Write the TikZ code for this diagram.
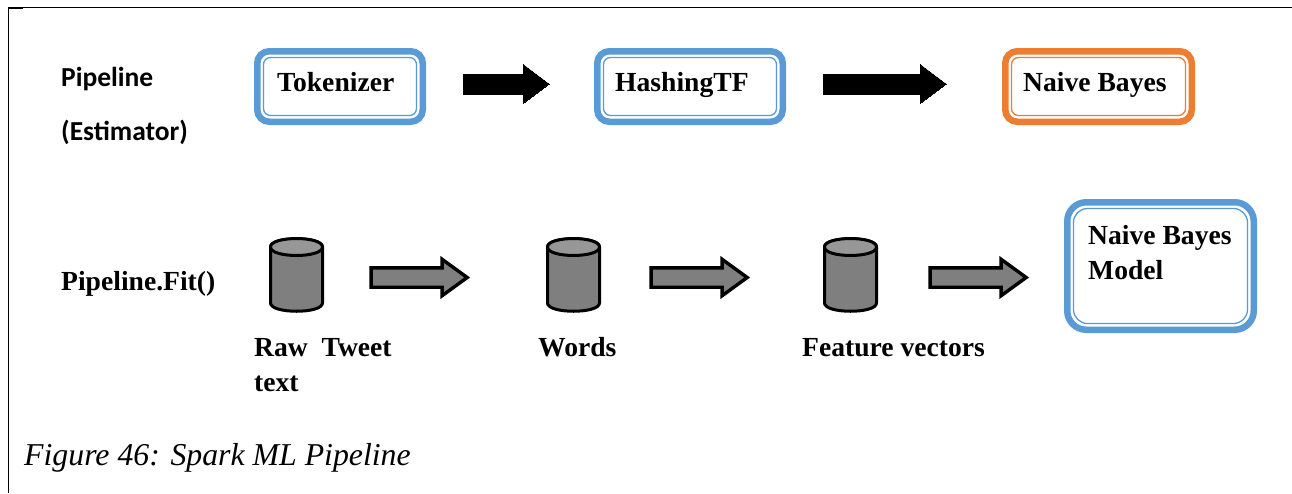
\documentclass[tikz,border=0pt]{standalone}
\usepackage{fontspec}
\setmainfont{Liberation Serif}
\newfontfamily\labelfont{Carlito}
\usetikzlibrary{shapes.geometric,shapes.arrows}
\definecolor{boxblue}{HTML}{5B9BD5}
\definecolor{boxorange}{HTML}{ED7D31}
\definecolor{cylgray}{HTML}{7F7F7F}
\definecolor{cyltop}{HTML}{979797}
\tikzset{
  x=1pt,y=-1pt,
  framebox/.style={rectangle,line width=6.5pt,fill=white,anchor=north west,outer sep=0pt},
  innerbox/.style={line width=1.3pt},
  boxtext/.style={font=\fontsize{27.6}{32}\selectfont\bfseries,anchor=base west,inner sep=0pt,align=left},
  sidetext/.style={font=\labelfont\fontsize{27.5}{32}\selectfont\bfseries,anchor=base west,inner sep=0pt},
  blockarrow/.style={single arrow,fill=black,draw=black,line width=0pt,inner xsep=0pt,inner ysep=10pt,anchor=center,minimum width=39pt,single arrow head extend=9.5pt,single arrow tip angle=74},
  grayarrow/.style={single arrow,fill=cylgray,draw=black,line width=3.4pt,inner xsep=0pt,inner ysep=8pt,anchor=center,minimum height=96pt,minimum width=33pt,single arrow head extend=8.5pt,single arrow tip angle=72},
  drumline/.style={draw=black,line width=3pt,line join=round},
}
\newcommand{\dbox}[7]{% name, x1, y1, x2, y2, colour, centre-line radius
  \node[framebox,rounded corners=#7pt,draw=#6,minimum width=#4pt-#2pt-6.5pt,minimum height=#5pt-#3pt-6.5pt] (#1) at (#2+3.25,#3+3.25) {};
  \draw[innerbox,rounded corners=#7pt-5pt,draw=#6] (#2+9.5,#3+9.5) rectangle (#4-9.5,#5-9.5);
}
\newcommand{\drum}[2]{% name, centre x
  \coordinate (#1) at (#2,275);
  \draw[drumline,fill=cylgray] (#2-26,247) -- (#2-26,303)
     .. controls (#2-26,314) and (#2+26,314) .. (#2+26,303) -- (#2+26,247)
     .. controls (#2+26,236) and (#2-26,236) .. (#2-26,247) -- cycle;
  \draw[drumline,fill=cyltop] (#2-26,247)
     .. controls (#2-26,258.3) and (#2+26,258.3) .. (#2+26,247)
     .. controls (#2+26,235.7) and (#2-26,235.7) .. (#2-26,247) -- cycle;
}
\begin{document}
\begin{tikzpicture}
\useasboundingbox (0,0) rectangle (1292,493);
\fill[white] (0,0) rectangle (1292,493);
% page frame
\coordinate (frameA) at (8.5,493);
\coordinate (frameB) at (8.5,7.5);
\coordinate (frameC) at (1292,7.5);
\draw[line width=1.4pt,black] (frameA) -- (frameB) -- (frameC);
\draw[line width=2pt,black] (8,8) -- (23,8);
% boxes
\dbox{tok}{254}{48}{426}{125}{boxblue}{12}
\dbox{hash}{594}{48}{786}{125}{boxblue}{12}
\dbox{nb}{1002}{48}{1195}{125}{boxorange}{12}
\dbox{model}{1064}{199}{1257}{333}{boxblue}{19}
\node[boxtext] (tokt) at (277,91) {Tokenizer};
\node[boxtext] (hasht) at (615,91) {HashingTF};
\node[boxtext] (nbt) at (1023,91) {Naive Bayes};
\node[boxtext] (modelt) at (1088,244) {Naive Bayes};
\node[boxtext] (modelu) at (1088,279) {Model};
\node[sidetext] (pipe) at (61,86) {Pipeline};
\node[sidetext] (est) at (61,140) {(Estimator)};
\node[boxtext] (fit) at (61,290) {Pipeline.Fit()};
% black arrows
\node[blockarrow,minimum height=86pt] (a1) at (499.5,84) {};
\node[blockarrow,minimum height=123pt] (a2) at (878,84) {};
% cylinders
\drum{c1}{296.5}
\drum{c2}{573.5}
\drum{c3}{850.5}
% gray arrows
\node[grayarrow] (g1) at (412.5,277.5) {};
\node[grayarrow] (g2) at (692.5,277.5) {};
\node[grayarrow] (g3) at (971.5,277.5) {};
% labels
\node[boxtext] (l1) at (254,356) {Raw\hspace{0.25em} Tweet};
\node[boxtext] (l1b) at (254,391) {text};
\node[boxtext] (l2) at (538,356) {Words};
\node[boxtext] (l3) at (802,356) {Feature vectors};
\node[anchor=base west,inner sep=0pt,font=\fontsize{31.8}{36}\selectfont\itshape] (cap) at (24,465) {Figure 46: Spark ML Pipeline};
\end{tikzpicture}
\end{document}
